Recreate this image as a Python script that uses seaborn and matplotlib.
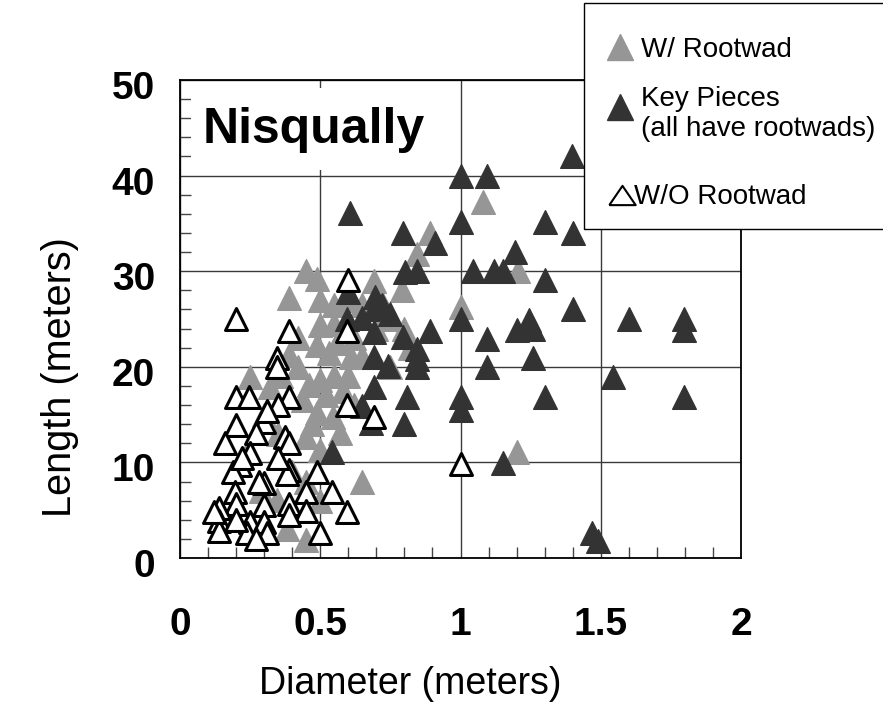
import numpy as np
import pandas as pd
import matplotlib
matplotlib.use("Agg")
import matplotlib.pyplot as plt
import seaborn as sns
from matplotlib.patches import Rectangle
from matplotlib.lines import Line2D
from matplotlib.transforms import ScaledTranslation

# ── Data ────────────────────────────────────────────────────
# W/ Rootwad (grey)
rw_x = [0.45, 0.49, 0.39, 0.69, 0.71, 0.79, 0.845, 0.89, 1.205, 1.0, 1.08, 1.2,
        0.65, 0.45, 0.5, 0.55, 0.5, 0.55, 0.49, 0.53, 0.61, 0.39, 0.25, 0.32,
        0.46, 0.5, 0.44, 0.49, 0.545, 0.57, 0.45, 0.5, 0.345, 0.29, 0.24, 0.6,
        0.65, 0.55, 0.58, 0.75, 0.8, 0.7, 0.42, 0.36, 0.3, 0.35, 0.4, 0.45,
        0.5, 0.38, 0.62, 0.56, 0.52, 0.47, 0.42, 0.6, 0.65, 0.82, 0.75, 0.62]
rw_y = [30, 29.2, 27.2, 29, 27.3, 28, 31.8, 34, 30, 26.3, 37.2, 11.1,
        7.9, 1.9, 27, 26.5, 24.4, 24.5, 22.3, 21.4, 21, 21.2, 18.9, 17.9,
        18.1, 18.6, 16.5, 15.2, 14.7, 13.1, 12.7, 11.3, 6.1, 7, 11, 19,
        21, 19, 17.5, 25, 24, 24, 20, 19, 15, 13, 9, 8,
        6, 3, 23, 22.5, 17, 14, 23, 27, 26.5, 22, 20, 16]

# Key Pieces (dark grey, all have rootwads)
key_x = [1.0, 1.095, 1.397, 1.0, 1.30, 1.40, 1.195, 1.045, 1.12, 1.15, 1.30, 1.40,
         1.0, 1.095, 1.20, 1.245, 1.26, 1.60, 1.795, 1.795, 1.095, 1.26, 1.545,
         1.0, 1.0, 1.30, 1.795, 1.15, 1.47, 1.49,
         0.606, 0.795, 0.909, 0.802, 0.845, 0.695, 0.595, 0.65, 0.69, 0.69,
         0.795, 0.89, 0.845, 0.845, 0.845, 0.69, 0.74, 0.69, 0.81, 0.65, 0.68,
         0.80, 0.54, 0.6, 0.72, 0.75]
key_y = [40, 40, 42.1, 35.1, 35.1, 34, 32, 30, 30, 30, 29.1, 26,
         25, 22.9, 23.8, 24.9, 24, 25, 25, 23.8, 20, 20.9, 18.9,
         16.8, 15.5, 16.8, 16.8, 9.9, 2.6, 1.8,
         36.1, 34, 33, 29.9, 30, 27.3, 25, 25.1, 26, 23.6,
         23.1, 23.7, 21.9, 20.8, 20, 21, 20.1, 17.9, 16.8, 15.9, 14.1,
         14, 11.1, 27.8, 26.5, 25.5]

# W/O Rootwad (open)
norw_x = [0.599, 1.0, 0.20, 0.39, 0.595, 0.345, 0.345, 0.20, 0.245, 0.39, 0.35,
          0.595, 0.69, 0.20, 0.30, 0.27, 0.31, 0.375, 0.39, 0.16, 0.215, 0.19,
          0.39, 0.38, 0.49, 0.30, 0.195, 0.54, 0.45, 0.30, 0.20, 0.14, 0.39,
          0.45, 0.595, 0.14, 0.25, 0.30, 0.39, 0.14, 0.24, 0.31, 0.5, 0.12,
          0.20, 0.27, 0.35, 0.25, 0.22, 0.28]
norw_y = [29.1, 9.8, 25, 23.7, 23.7, 20.9, 20, 16.8, 16.8, 16.8, 16,
          16, 14.8, 13.9, 14.2, 13.1, 15.4, 12.7, 12, 12, 9.7, 9,
          9.2, 8.8, 9, 7.8, 6.9, 6.9, 6.9, 5.5, 5.7, 5.2, 5.6,
          4.9, 4.8, 3.9, 3.8, 3.8, 4.5, 2.8, 2.6, 2.6, 2.6, 4.8,
          4, 2, 10.5, 11, 10.5, 8]

x_ticks = [0, 0.5, 1, 1.5, 2]
x_tick_labels = ["0", "0.5", "1", "1.5", "2"]
y_ticks = [0, 10, 20, 30, 40, 50]

GREY = '#969696'
DARK = '#333333'

# ── Style ───────────────────────────────────────────────────
sns.set_style("white")
plt.rcParams['font.family'] = ['Liberation Sans', 'DejaVu Sans']
plt.rcParams['text.color'] = 'black'
plt.rcParams['axes.labelcolor'] = 'black'
plt.rcParams['xtick.color'] = 'black'
plt.rcParams['ytick.color'] = 'black'

fig = plt.figure(figsize=(8.83, 7.10), dpi=100)
ax = fig.add_axes([0.2039, 0.2141, 0.6353, 0.6732])

rw = pd.DataFrame({'Diameter': rw_x, 'Length': rw_y})
key = pd.DataFrame({'Diameter': key_x, 'Length': key_y})
norw = pd.DataFrame({'Diameter': norw_x, 'Length': norw_y})

sns.scatterplot(data=rw, x='Diameter', y='Length', marker='^', s=290,
                color=GREY, edgecolor=GREY, linewidth=1, ax=ax, zorder=3)
sns.scatterplot(data=key, x='Diameter', y='Length', marker='^', s=290,
                color=DARK, edgecolor=DARK, linewidth=1, ax=ax, zorder=4)
sns.scatterplot(data=norw, x='Diameter', y='Length', marker='^', s=250,
                color='white', edgecolor='black', linewidth=2.2, ax=ax, zorder=5)

ax.set_xlim(0, 2)
ax.set_ylim(0, 50)
ax.set_xticks(x_ticks)
ax.set_xticklabels(x_tick_labels)
ax.set_yticks(y_ticks)
ax.set_xticks(np.arange(0, 2.001, 0.1), minor=True)
ax.set_yticks(np.arange(0, 50.001, 2), minor=True)

ax.set_axisbelow(True)
ax.grid(True, which='major', color='#3a3a3a', linewidth=1)
for sp in ax.spines.values():
    sp.set_color('black')
    sp.set_linewidth(1.3)

ax.tick_params(which='both', bottom=True, left=True, top=False, right=False)
ax.tick_params(which='minor', direction='in', length=8, width=1, color='#444444')
ax.tick_params(which='major', direction='in', length=0)
ax.tick_params(axis='x', which='major', pad=35, labelsize=28, labelcolor='black')
ax.tick_params(axis='y', which='major', pad=18, labelsize=28, labelcolor='black')
shift = ScaledTranslation(0, -5 / 100, fig.dpi_scale_trans)
for lbl in ax.get_xticklabels() + ax.get_yticklabels():
    lbl.set_fontweight('bold')
for lbl in ax.get_yticklabels():
    lbl.set_transform(lbl.get_transform() + shift)

ax.set_xlabel('Diameter (meters)', fontsize=27, color='black')
ax.xaxis.set_label_coords(0.41, -0.226)
ax.set_ylabel('Length (meters)', fontsize=28.5, color='black')
ax.yaxis.set_label_coords(-0.18, 0.379)

# site name with white box
ax.add_patch(Rectangle((0.02, 0.812), 0.44, 0.171, transform=ax.transAxes,
                       facecolor='white', edgecolor='none', zorder=2))
ax.text(0.239, 0.868, 'Nisqually', transform=ax.transAxes, ha='center',
        va='baseline', fontsize=36, fontweight='bold', color='black', zorder=3)

# ── Hand-made legend box (top right, runs off the figure) ────
W, H = 883, 710
def fx(px):
    return px / W
def fy(py):
    return 1 - py / H

fig.patches.append(Rectangle((fx(584), fy(229)), fx(340), (229 - 3) / H,
                             transform=fig.transFigure, facecolor='white',
                             edgecolor='black', linewidth=1, zorder=10))
fig.lines.append(Line2D([fx(620)], [fy(47)], marker='^', markersize=19,
                        color=GREY, markeredgecolor=GREY, linestyle='none',
                        transform=fig.transFigure, zorder=11))
fig.lines.append(Line2D([fx(620)], [fy(107)], marker='^', markersize=19,
                        color=DARK, markeredgecolor=DARK, linestyle='none',
                        transform=fig.transFigure, zorder=11))
tri = [(-1, -0.73), (1, -0.73), (0, 0.73), (-1, -0.73)]
fig.lines.append(Line2D([fx(622)], [fy(194.5)], marker=tri, markersize=19,
                        markerfacecolor='white', markeredgecolor='black',
                        markeredgewidth=1.5, linestyle='none',
                        transform=fig.transFigure, zorder=11))
fig.text(fx(641), fy(57), 'W/ Rootwad', fontsize=20, va='baseline', zorder=12)
fig.text(fx(641), fy(106), 'Key Pieces', fontsize=20, va='baseline', zorder=12)
fig.text(fx(641), fy(136), '(all have rootwads)', fontsize=20, va='baseline', zorder=12)
fig.text(fx(634), fy(204), 'W/O Rootwad', fontsize=20, va='baseline', zorder=12)

plt.savefig('out.png', dpi=100)
